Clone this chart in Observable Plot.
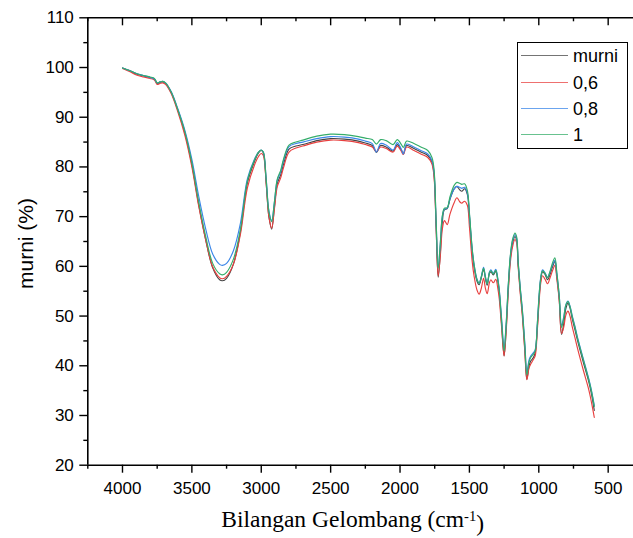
<!DOCTYPE html>
<html><head><meta charset="utf-8">
<script src="https://cdn.jsdelivr.net/npm/d3@7"></script>
<script src="https://cdn.jsdelivr.net/npm/@observablehq/plot@0.6"></script>
<style>
html,body{margin:0;padding:0;background:#fff;}
#wrap{position:relative;width:633px;height:538px;overflow:hidden;}
#legend{position:absolute;left:517px;top:41.5px;width:109px;height:105px;border:1.4px solid #000;background:#fff;font-family:Arial,"Liberation Sans",sans-serif;font-size:18px;color:#000;}
.row{position:absolute;left:0;height:0;}
.sw{position:absolute;left:2.5px;width:47px;height:0;border-top:1.6px solid;}
.lb{position:absolute;left:55px;transform:translateY(-50%);white-space:nowrap;line-height:1;}
</style>
</head><body>
<div id="wrap"><div id="legend"></div></div>
<script>
const seriesNames = ["murni", "0,6", "0,8", "1"];
const seriesColors = ["#454545", "#e8403f", "#3a86e8", "#35ad6a"];

const wavenumber = [4000,3950,3900,3850,3800,3770,3750,3730,3710,3690,3650,3600,3550,3500,3450,3400,3350,3300,3280,3250,3200,3150,3100,3050,3020,3000,2985,2965,2945,2925,2905,2885,2860,2840,2800,2750,2700,2600,2500,2400,2300,2250,2200,2170,2140,2100,2050,2020,1990,1976,1952,1900,1850,1800,1770,1755,1740,1725,1710,1695,1680,1660,1640,1610,1590,1570,1555,1535,1515,1500,1480,1466,1445,1430,1415,1398,1385,1372,1355,1345,1328,1310,1295,1285,1268,1250,1235,1220,1205,1190,1172,1160,1149,1135,1118,1100,1086,1070,1057,1040,1026,1010,997,985,973,955,937,920,900,884,870,853,836,820,805,790,775,760,740,720,680,640,620,600];

const murni = [99.9,99.4,98.7,98.3,98.0,97.7,96.8,97.0,97.1,96.8,95.0,91.3,86.8,80.5,72.3,65.3,59.7,57.3,57.1,57.6,60.5,67.0,76.8,81.0,82.8,83.3,82.8,77.0,70.0,67.5,72.0,76.6,78.4,80.5,83.6,84.2,84.5,85.3,85.7,85.6,85.2,84.8,84.3,82.9,84.3,84.0,83.2,84.5,83.4,82.6,84.3,83.7,83.0,82.3,81.0,78.5,68.0,57.8,62.5,69.0,71.4,71.6,73.5,75.6,76.1,75.4,75.1,75.6,74.5,70.0,63.0,59.8,57.0,56.3,57.6,59.4,57.6,56.2,58.6,58.9,58.3,59.0,57.0,54.8,48.4,42.0,47.5,55.5,61.5,64.5,66.0,65.3,60.5,55.5,50.4,43.0,37.3,40.0,41.0,41.6,42.6,48.0,53.8,57.5,58.9,58.4,57.3,58.3,60.0,61.0,58.0,53.5,46.3,48.5,51.5,52.6,51.6,49.6,47.3,45.0,40.8,36.8,34.3,31.0];

const s06 = [99.8,99.2,98.5,98.1,97.8,97.5,96.6,96.8,96.9,96.6,94.8,91.0,86.3,80.0,72.0,65.3,59.9,57.7,57.5,58.0,60.5,66.5,75.8,80.3,82.1,82.7,82.3,76.8,70.0,67.7,71.6,76.0,77.8,79.8,83.0,83.8,84.2,85.0,85.4,85.3,84.9,84.5,84.0,83.1,84.0,83.7,83.0,84.2,83.1,82.5,84.0,83.3,82.6,81.9,80.6,78.0,68.0,58.1,62.0,67.5,69.2,68.4,70.5,72.8,73.8,73.0,72.7,73.1,72.3,68.0,61.0,58.0,55.2,54.4,55.5,57.6,55.6,54.5,56.8,57.3,56.7,57.4,55.5,53.5,47.8,42.0,47.0,54.8,60.8,63.8,65.4,64.8,60.0,55.0,49.8,42.6,37.2,39.6,40.4,41.2,42.0,47.4,53.2,56.8,58.1,57.4,56.5,57.6,59.2,60.2,57.4,53.2,46.5,47.8,50.2,51.0,50.0,48.0,45.7,43.4,39.2,35.2,32.6,29.6];

const s08 = [99.9,99.4,98.8,98.4,98.0,97.7,96.9,97.1,97.2,96.9,95.2,91.6,87.3,81.5,74.0,67.5,62.5,60.4,60.2,60.6,63.2,68.7,77.6,81.5,83.0,83.4,83.0,77.8,71.2,69.2,73.0,77.3,79.0,81.2,84.1,84.7,85.0,85.7,86.1,86.0,85.6,85.2,84.7,83.0,84.7,84.4,83.4,84.9,83.5,82.6,84.6,84.0,83.3,82.6,81.3,79.0,69.0,59.8,64.5,70.0,71.5,71.7,73.6,75.6,76.1,75.9,75.7,75.9,74.8,70.5,63.5,60.3,57.4,56.6,57.9,59.8,58.0,56.5,58.9,59.3,58.6,59.4,57.5,55.4,49.5,43.7,48.6,56.2,62.0,65.0,66.4,65.7,61.0,56.2,51.2,44.3,38.7,41.2,42.0,42.6,43.2,48.8,54.6,58.0,59.3,58.7,57.8,58.8,60.4,61.2,58.5,54.3,48.1,49.9,52.3,53.0,52.0,50.2,48.0,45.6,41.5,37.4,35.0,32.0];

const s1 = [99.9,99.4,98.8,98.4,98.1,97.8,96.9,97.1,97.2,96.9,95.1,91.4,87.0,80.8,72.8,66.0,60.6,58.5,58.3,58.8,61.5,67.5,77.2,81.3,83.0,83.4,83.0,77.6,71.0,69.0,73.0,77.5,79.3,81.5,84.4,85.0,85.4,86.2,86.6,86.5,86.1,85.8,85.5,84.6,85.5,85.3,84.5,85.5,84.5,83.9,85.2,84.7,84.0,83.3,81.9,79.5,69.2,59.6,64.5,70.2,71.7,71.8,74.0,76.3,76.9,76.7,76.5,76.6,75.3,70.8,63.6,60.3,57.3,56.6,57.8,59.6,57.9,56.5,58.8,59.1,58.5,59.2,57.3,55.2,49.0,43.0,48.3,56.1,62.2,65.3,66.7,66.0,61.0,56.0,50.9,43.8,38.2,40.8,41.7,42.3,43.0,48.6,54.4,57.8,59.1,58.6,57.7,58.9,60.8,61.7,58.8,54.2,47.7,49.6,52.2,52.9,51.9,50.0,47.8,45.4,41.3,37.2,34.8,31.8];

const xMajor = [4000,3500,3000,2500,2000,1500,1000,500];
const xMinor = [4250,3750,3250,2750,2250,1750,1250,750];
const yMajor = [20,30,40,50,60,70,80,90,100,110];
const yMinor = [25,35,45,55,65,75,85,95,105];
const xTitle = "Bilangan Gelombang (cm-1)";
const yTitle = "murni (%)";

const seriesValues = [murni, s06, s08, s1];
const data = [];
seriesNames.forEach((name, k) => {
  wavenumber.forEach((w, i) => data.push({wn: w, t: seriesValues[k][i], series: name}));
});

const W = 633, H = 538, mL = 87.3, mR = 0, mT = 17.3, mB = 73.3;
const frameH = H - mT - mB;

const chart = Plot.plot({
  width: W, height: H,
  marginLeft: mL, marginRight: mR, marginTop: mT, marginBottom: mB,
  style: {fontFamily: "Arial, 'Liberation Sans', sans-serif", fontSize: "17px", color: "#000", background: "#fff", overflow: "visible"},
  x: {domain: [4250, 317.5], label: null},
  y: {domain: [20, 110], label: null},
  color: {domain: seriesNames, range: seriesColors},
  marks: [
    Plot.line(data, {x: "wn", y: "t", z: "series", stroke: "series", strokeWidth: 1.15, curve: "catmull-rom"}),
    Plot.axisY({anchor: "left", ticks: yMajor, tickSize: 8, tickPadding: 6, tickFormat: d => String(d), stroke: "#000", strokeWidth: 1.4}),
    Plot.axisY({anchor: "left", ticks: yMinor, tickSize: 4, tickFormat: () => "", stroke: "#000", strokeWidth: 1.4}),
    Plot.axisX({anchor: "bottom", ticks: xMajor, tickSize: 8, tickPadding: 9, tickFormat: d => String(d), stroke: "#000", strokeWidth: 1.4}),
    Plot.axisX({anchor: "bottom", ticks: xMinor, tickSize: 4, tickFormat: () => "", stroke: "#000", strokeWidth: 1.4}),
    Plot.ruleX(xMajor, {x: d => d, insetBottom: frameH - 8, stroke: "#000", strokeWidth: 1.4}),
    Plot.ruleX(xMinor, {x: d => d, insetBottom: frameH - 4, stroke: "#000", strokeWidth: 1.4}),
    Plot.ruleY([20, 110], {stroke: "#000", strokeWidth: 1.6}),
    Plot.ruleX([4250], {stroke: "#000", strokeWidth: 1.6}),
    Plot.text([yTitle], {text: d => d, frameAnchor: "left", textAnchor: "middle", rotate: -90, dx: -62, dy: 2, fontSize: 21, fill: "#000", className: "ytitle"}),
    Plot.text([xTitle], {text: d => d, frameAnchor: "bottom", lineAnchor: "bottom", dx: -8, dy: 62, fontSize: 23.5, fill: "#000", fontFamily: "'Liberation Serif', 'Times New Roman', serif", className: "xtitle"})
  ]
});
document.getElementById("wrap").prepend(chart);

// superscript for the x title
d3.select(chart).selectAll(".xtitle text").each(function() {
  const el = d3.select(this);
  const txt = el.text();
  const m = txt.match(/^(.*\(cm)(-1)(\))$/);
  if (m) {
    el.text(null);
    el.append("tspan").text(m[1]);
    el.append("tspan").attr("dy", "-0.42em").attr("font-size", "0.62em").text(m[2]);
    el.append("tspan").attr("dy", "0.42em").text(m[3]);
  }
});

// legend
const lg = document.getElementById("legend");
const rowTops = [13.3, 40, 66, 92.3];
seriesNames.forEach((name, i) => {
  const r = document.createElement("div");
  r.className = "row";
  r.style.top = rowTops[i] + "px";
  const sw = document.createElement("div");
  sw.className = "sw";
  sw.style.borderTopColor = seriesColors[i];
  sw.style.top = "-0.8px";
  sw.style.opacity = "0.75";
  const lb = document.createElement("div");
  lb.className = "lb";
  lb.textContent = name;
  r.appendChild(sw); r.appendChild(lb);
  lg.appendChild(r);
});
</script>
</body></html>
